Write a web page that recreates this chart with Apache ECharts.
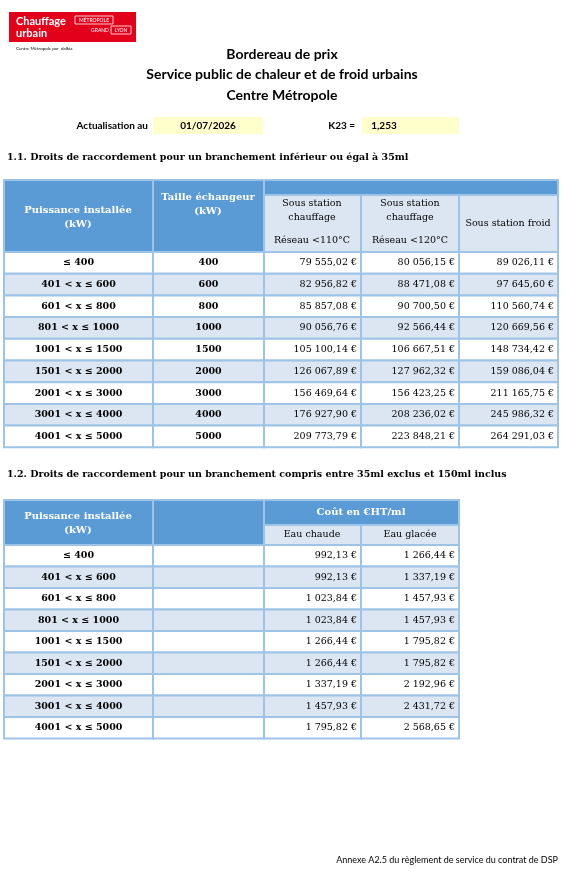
<!DOCTYPE html>
<html><head><meta charset="utf-8">
<script src="https://cdn.jsdelivr.net/npm/echarts@6/dist/echarts.min.js"></script>
<style>html,body{margin:0;padding:0;background:#fff}#c{width:564px;height:877px}</style>
</head><body><div id="c"></div>
<script>
const powers = ['≤ 400','401 < x ≤ 600','601 < x ≤ 800','801 < x ≤ 1000','1001 < x ≤ 1500','1501 < x ≤ 2000','2001 < x ≤ 3000','3001 < x ≤ 4000','4001 < x ≤ 5000'];
const exchanger = ['400','600','800','1000','1500','2000','3000','4000','5000'];
const chauffage110 = ['79 555,02 €','82 956,82 €','85 857,08 €','90 056,76 €','105 100,14 €','126 067,89 €','156 469,64 €','176 927,90 €','209 773,79 €'];
const chauffage120 = ['80 056,15 €','88 471,08 €','90 700,50 €','92 566,44 €','106 667,51 €','127 962,32 €','156 423,25 €','208 236,02 €','223 848,21 €'];
const froid = ['89 026,11 €','97 645,60 €','110 560,74 €','120 669,56 €','148 734,42 €','159 086,04 €','211 165,75 €','245 986,32 €','264 291,03 €'];
const eauChaude = ['992,13 €','992,13 €','1 023,84 €','1 023,84 €','1 266,44 €','1 266,44 €','1 337,19 €','1 457,93 €','1 795,82 €'];
const eauGlacee = ['1 266,44 €','1 337,19 €','1 457,93 €','1 457,93 €','1 795,82 €','1 795,82 €','2 192,96 €','2 431,72 €','2 568,65 €'];

const BLUE='#5b9bd5', LIGHT='#dce6f2', BORDER='#9dc3e6';
const SERIF='"DejaVu Serif", "Liberation Serif", serif';
const SANS='Lato, "Open Sans", sans-serif';
const els=[];
function rect(x,y,w,h,fill,stroke,lw){els.push({type:'rect',shape:{x,y,width:w,height:h},style:{fill,stroke:stroke||null,lineWidth:lw||0}});}
function text(x,y,t,o){o=o||{};els.push({type:'text',x,y,style:{text:t,fill:o.color||'#000',font:(o.bold?'bold ':'')+(o.size||10)+'px '+(o.family||SERIF),align:o.align||'center',verticalAlign:'middle',lineHeight:o.lh||14}});}

// Logo
rect(9,12,127,30,'#e2001a');
text(16,21,'Chauffage',{color:'#fff',bold:true,size:11,family:SANS,align:'left'});
text(16,33,'urbain',{color:'#fff',bold:true,size:11,family:SANS,align:'left'});
rect(75,16,38,8,null,'#fff',0.8);
text(94,20,'MÉTROPOLE',{color:'#fff',size:5,family:SANS});
text(100,30,'GRAND',{color:'#fff',size:5,family:SANS});
rect(111,26,20,8,null,'#fff',0.8);
text(121,30,'LYON',{color:'#fff',size:5,family:SANS});
text(16,49,'Centre Métropole par  dalkia',{size:4.5,family:SANS,align:'left'});

// Titles
text(282,54,'Bordereau de prix',{bold:true,size:14,family:SANS});
text(282,74,'Service public de chaleur et de froid urbains',{bold:true,size:14,family:SANS});
text(282,95,'Centre Métropole',{bold:true,size:14,family:SANS});
rect(153,117,110,17,'#ffffcc'); rect(362,117,97,17,'#ffffcc');
text(148,126,'Actualisation au',{bold:true,size:10,family:SANS,align:'right'});
text(208,126,'01/07/2026',{bold:true,size:10,family:SANS});
text(355,126,'K23 =',{bold:true,size:10,family:SANS,align:'right'});
text(384,126,'1,253',{bold:true,size:10,family:SANS});
text(7,158,'1.1. Droits de raccordement pour un branchement inférieur ou égal à 35ml',{bold:true,size:9.5,align:'left'});
text(7,475,'1.2. Droits de raccordement pour un branchement compris entre 35ml exclus et 150ml inclus',{bold:true,size:9.5,align:'left'});
text(558,860,'Annexe A2.5 du règlement de service du contrat de DSP',{size:9,family:SANS,align:'right'});

function table(cols, top, rowH, data, aligns){
  const n=data[0].length;
  for(let r=0;r<n;r++){
    const y=top+r*rowH;
    for(let c=0;c<cols.length-1;c++){
      const x=cols[c], w=cols[c+1]-cols[c];
      rect(x,y,w,rowH,r%2?LIGHT:'#fff',BORDER,2);
      const a=aligns[c];
      const tx=a==='right'?x+w-4:x+w/2;
      text(tx,y+rowH/2,data[c][r],{bold:c<2,size:9.5,align:a});
    }
  }
}
// Table 1
const c1=[4,153,264,361,459,558];
rect(4,180,554,72,BLUE,BORDER,2);
rect(153,180,111,72,BLUE,BORDER,2);
rect(4,180,149,72,BLUE,BORDER,2);
text(78,217,'Puissance installée\n(kW)',{bold:true,size:10,color:'#fff',lh:14});
text(208,204,'Taille échangeur\n(kW)',{bold:true,size:10,color:'#fff',lh:14});
for(let i=2;i<5;i++) rect(c1[i],195,c1[i+1]-c1[i],57,LIGHT,BORDER,2);
text(312,211,'Sous station\nchauffage',{size:9.5,lh:14});
text(312,241,'Réseau <110°C',{size:9.5});
text(410,211,'Sous station\nchauffage',{size:9.5,lh:14});
text(410,241,'Réseau <120°C',{size:9.5});
text(508,224,'Sous station froid',{size:9.5});
table(c1,252,21.7,[powers,exchanger,chauffage110,chauffage120,froid],['center','center','right','right','right']);

// Table 2
const c2=[4,153,264,361,459];
rect(4,500,455,45,BLUE,BORDER,2);
rect(4,500,149,45,BLUE,BORDER,2);
rect(153,500,111,45,BLUE,BORDER,2);
text(78,523,'Puissance installée\n(kW)',{bold:true,size:10,color:'#fff',lh:14});
text(361,512,'Coût en €HT/ml',{bold:true,size:10,color:'#fff'});
rect(264,525,97,20,LIGHT,BORDER,2); rect(361,525,98,20,LIGHT,BORDER,2);
text(312,535,'Eau chaude',{size:9.5}); text(410,535,'Eau glacée',{size:9.5});
table(c2,545,21.5,[powers,powers.map(()=>''),eauChaude,eauGlacee],['center','center','right','right']);

const chart=echarts.init(document.getElementById('c'));
chart.setOption({animation:false,graphic:{elements:els}});
</script></body></html>
